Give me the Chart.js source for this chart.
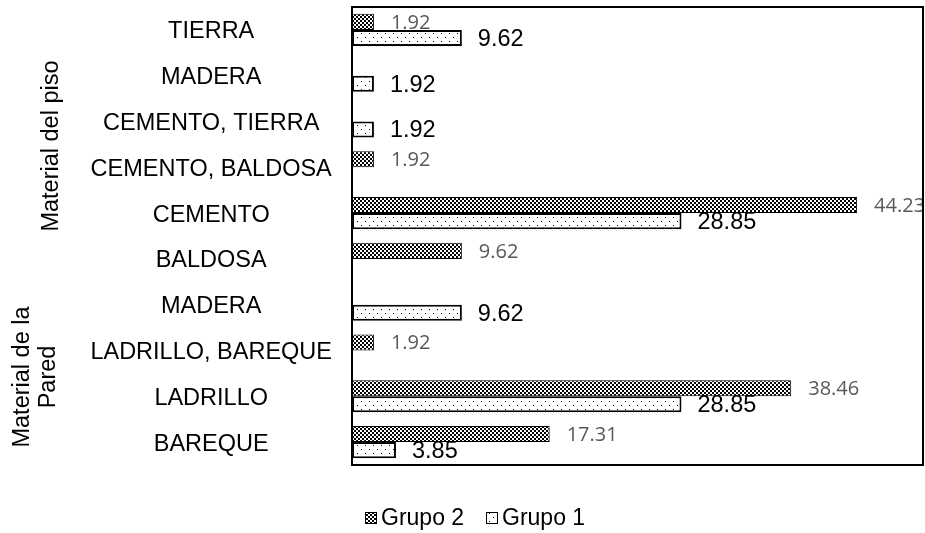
<!DOCTYPE html>
<html><head><meta charset="utf-8">
<script src="https://cdn.jsdelivr.net/npm/chart.js@4.4.1/dist/chart.umd.min.js"></script>
<style>html,body{margin:0;padding:0;background:#fff}#wrap{width:925px;height:533px;position:relative}</style>
</head><body><div id="wrap"><canvas id="c" width="925" height="533"></canvas></div>
<script>
const categories = ['TIERRA','MADERA','CEMENTO, TIERRA','CEMENTO, BALDOSA','CEMENTO','BALDOSA','MADERA','LADRILLO, BAREQUE','LADRILLO','BAREQUE'];
const grupo2 = [1.92, null, null, 1.92, 44.23, 9.62, null, 1.92, 38.46, 17.31];
const grupo1 = [9.62, 1.92, 1.92, null, 28.85, null, 9.62, null, 28.85, 3.85];
const seriesNames = ['Grupo 2', 'Grupo 1'];
const groupTitlePiso = ['Material del piso'];
const groupTitlePared = ['Material de la', 'Pared'];
const xMin = 0, xMax = 50;

function makePattern(w, h, pts) {
  const c = document.createElement('canvas'); c.width = w; c.height = h;
  const x = c.getContext('2d');
  x.fillStyle = '#fff'; x.fillRect(0, 0, w, h);
  x.fillStyle = '#000';
  pts.forEach(p => x.fillRect(p[0], p[1], 1, 1));
  return x.createPattern(c, 'repeat');
}
const crossPat = makePattern(4, 4, [[0,0],[1,0],[0,1],[1,1],[2,2],[3,2],[2,3],[3,3]]);
const dotPat = makePattern(8, 8, [[1,1],[5,5]]);

const FONT = "'Liberation Sans', Arial, sans-serif";
const labelStyles = [
  {font: "20px 'Open Sans', sans-serif", color: '#595959', dx: 17, dy: 1},
  {font: "23.5px " + FONT, color: '#000', dx: 16, dy: 1.5}
];

const overlay = {
  id: 'overlay',
  afterDatasetsDraw(chart) {
    const ctx = chart.ctx, a = chart.chartArea;
    ctx.save();
    ctx.beginPath(); ctx.rect(a.left, a.top, a.right - a.left, a.bottom - a.top); ctx.clip();
    chart.data.datasets.forEach((ds, i) => {
      const meta = chart.getDatasetMeta(i);
      meta.data.forEach((bar, j) => {
        const v = ds.data[j];
        if (v == null) return;
        const st = labelStyles[i];
        ctx.font = st.font; ctx.fillStyle = st.color;
        ctx.textAlign = 'left'; ctx.textBaseline = 'middle';
        ctx.fillText(v.toFixed(2), bar.x + st.dx, bar.y + st.dy);
      });
    });
    ctx.restore();
  },
  afterDraw(chart) {
    const ctx = chart.ctx, a = chart.chartArea;
    ctx.save();
    ctx.strokeStyle = '#000'; ctx.lineWidth = 2;
    ctx.strokeRect(a.left, a.top, a.right - a.left, a.bottom - a.top);
    ctx.fillStyle = '#000'; ctx.font = "23.5px " + FONT;
    ctx.textAlign = 'center'; ctx.textBaseline = 'middle';
    ctx.save(); ctx.translate(52, 146); ctx.rotate(-Math.PI/2); ctx.fillText(groupTitlePiso[0], 0, 0); ctx.restore();
    ctx.save(); ctx.translate(23, 377); ctx.rotate(-Math.PI/2); ctx.fillText(groupTitlePared[0], 0, 0); ctx.restore();
    ctx.save(); ctx.translate(49, 377); ctx.rotate(-Math.PI/2); ctx.fillText(groupTitlePared[1], 0, 0); ctx.restore();
    const items = [{x: 365, pat: crossPat, text: seriesNames[0]}, {x: 486, pat: dotPat, text: seriesNames[1]}];
    ctx.font = "23px " + FONT; ctx.textAlign = 'left'; ctx.textBaseline = 'middle';
    items.forEach(it => {
      ctx.fillStyle = it.pat; ctx.fillRect(it.x, 512, 12, 12);
      ctx.lineWidth = 1; ctx.strokeStyle = '#000'; ctx.strokeRect(it.x + 0.5, 512.5, 11, 11);
      ctx.fillStyle = '#000'; ctx.fillText(it.text, it.x + 16, 519);
    });
    ctx.restore();
  }
};

new Chart(document.getElementById('c'), {
  type: 'bar',
  data: {
    labels: categories,
    datasets: [
      {label: seriesNames[0], data: grupo2, backgroundColor: crossPat, borderColor: '#000', borderWidth: 1, borderSkipped: false},
      {label: seriesNames[1], data: grupo1, backgroundColor: dotPat, borderColor: '#000', borderWidth: 2, borderSkipped: false}
    ]
  },
  options: {
    indexAxis: 'y',
    responsive: false,
    animation: false,
    devicePixelRatio: 1,
    layout: {padding: {top: 7, right: 2, bottom: 68, left: 0}},
    datasets: {bar: {categoryPercentage: 0.7, barPercentage: 1.0}},
    plugins: {legend: {display: false}, tooltip: {enabled: false}},
    scales: {
      x: {display: false, min: xMin, max: xMax},
      y: {
        grid: {display: false, drawTicks: false},
        border: {display: false},
        ticks: {font: {family: FONT, size: 23.5}, color: '#000', crossAlign: 'center', padding: 20, labelOffset: 2, autoSkip: false},
        afterFit: s => { s.width = 352; s.paddingTop = 0; s.paddingBottom = 0; }
      }
    }
  },
  plugins: [overlay]
});
</script></body></html>
